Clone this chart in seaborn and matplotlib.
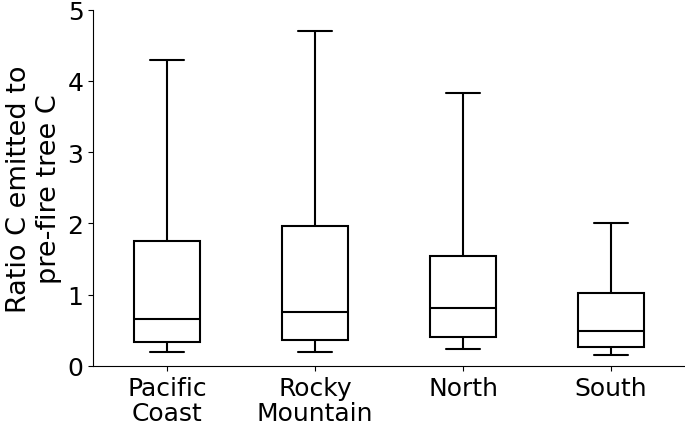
import pandas as pd
import numpy as np
import seaborn as sns
from matplotlib import pyplot as plt

# Box summary: min, Q1, median, Q3, max
regions = ['Pacific\nCoast', 'Rocky\nMountain', 'North', 'South']
low_whisker = [0.19, 0.20, 0.24, 0.15]
q1 = [0.33, 0.36, 0.40, 0.26]
median = [0.655, 0.75, 0.81, 0.49]
q3 = [1.75, 1.96, 1.54, 1.02]
high_whisker = [4.30, 4.70, 3.83, 2.00]

# Five points per group give exactly these quartiles with linear percentiles
rows = []
for i, reg in enumerate(regions):
    for v in [low_whisker[i], q1[i], median[i], q3[i], high_whisker[i]]:
        rows.append({'region': reg, 'ratio': v})
df = pd.DataFrame(rows)

sns.set_style('ticks')
plt.rcParams['font.family'] = ['DejaVu Sans']
plt.rcParams['text.color'] = 'black'
plt.rcParams['axes.labelcolor'] = 'black'
plt.rcParams['xtick.color'] = 'black'
plt.rcParams['ytick.color'] = 'black'
plt.rcParams['axes.edgecolor'] = 'black'

fig = plt.figure(figsize=(6.85, 4.31), dpi=100)
ax = fig.add_axes([0.136, 0.149, 0.864, 0.826])

sns.boxplot(data=df, x='region', y='ratio', order=regions, color='white', linecolor='black',
            linewidth=1.5, width=0.45, whis=(0, 100), showfliers=False, ax=ax)

ax.set_ylim(0, 5)
ax.set_xlim(-0.5, 3.5)
ax.set_yticks(np.arange(0, 6, 1))
ax.set_xlabel('')
ax.set_ylabel('Ratio C emitted to\npre-fire tree C', fontsize=19.5, labelpad=4)
ax.tick_params(labelsize=18)
ax.tick_params(axis='x', pad=3.5)
for lbl in ax.get_xticklabels():
    lbl.set_linespacing(1.1)
sns.despine(ax=ax)

fig.savefig('out.png', dpi=100)
